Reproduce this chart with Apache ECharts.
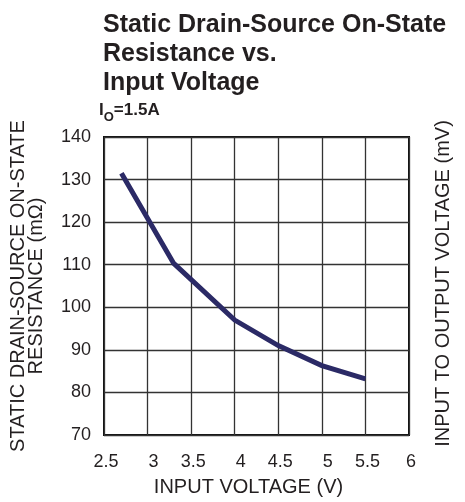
<!DOCTYPE html>
<html>
<head>
<meta charset="utf-8">
<script src="https://cdn.jsdelivr.net/npm/echarts@6/dist/echarts.min.js"></script>
<style>
  html, body { margin: 0; padding: 0; background: #fff; }
</style>
</head>
<body>
<!-- container with fixed size for the chart -->
<div id="main" style="width: 465px; height: 502px;"></div>
<script>
// input voltage (V)
var inputVoltage = [2.7, 3.3, 4.0, 4.5, 5.0, 5.5]
// on-state resistance (mOhm)
var resistance = [131.5, 110.3, 97.0, 91.0, 86.3, 83.2]

var titleLines = ['Static Drain-Source On-State', 'Resistance vs.', 'Input Voltage']
var fontFamily = '"Liberation Sans", Arial, Helvetica, sans-serif'

var points = []
for (var i = 0; i < inputVoltage.length; i++) {
  points.push([inputVoltage[i], resistance[i]])
}

var chart = echarts.init(document.getElementById('main'))
var option = {
  animation: false,
  backgroundColor: '#fff',
  title: {
    text: titleLines.join('\n'),
    left: 98,
    top: 6,
    textStyle: {
      fontFamily: fontFamily,
      fontSize: 25,
      fontWeight: 'bold',
      lineHeight: 29,
      color: '#231f20'
    }
  },
  graphic: [
    {
      type: 'text',
      left: 99,
      top: 102,
      style: {
        text: '{b|I}{s|O}{b|=1.5A}',
        rich: {
          b: { fontFamily: fontFamily, fontSize: 17, fontWeight: 'bold', fill: '#231f20', verticalAlign: 'top', lineHeight: 22 },
          s: { fontFamily: fontFamily, fontSize: 13, fontWeight: 'bold', fill: '#231f20', verticalAlign: 'top', padding: [9, 0, 0, 0], lineHeight: 22 }
        }
      }
    }
  ],
  grid: {
    left: 101,
    right: 56,
    top: 137,
    bottom: 59,
    show: true,
    borderColor: '#111',
    borderWidth: 2
  },
  xAxis: {
    type: 'value',
    min: 2.5,
    max: 6,
    interval: 0.5,
    name: 'INPUT VOLTAGE (V)',
    nameLocation: 'middle',
    nameGap: 42,
    nameTextStyle: { fontFamily: fontFamily, fontSize: 20, color: '#231f20', padding: [0, 16, 0, 0] },
    axisLine: { show: false },
    axisTick: { show: false },
    axisLabel: {
      fontFamily: fontFamily,
      fontSize: 18,
      color: '#231f20',
      margin: 17,
      // whole volts sit a little right of their grid line in the original
      formatter: function (v) {
        if (v % 1 === 0 && v < 6) return '{i|' + v + '}'
        return '{h|' + v + '}'
      },
      rich: {
        i: { fontFamily: fontFamily, fontSize: 18, lineHeight: 20, color: '#231f20', padding: [0, 0, 0, 12] },
        h: { fontFamily: fontFamily, fontSize: 18, lineHeight: 20, color: '#231f20', padding: [0, 0, 0, 4] }
      }
    },
    splitLine: { show: true, lineStyle: { color: '#333', width: 1.3 } }
  },
  yAxis: [
    {
      type: 'value',
      min: 70,
      max: 140,
      interval: 10,
      name: 'STATIC DRAIN-SOURCE ON-STATE\nRESISTANCE (mΩ)',
      nameLocation: 'middle',
      nameRotate: 90,
      nameGap: 59,
      nameTextStyle: { fontFamily: fontFamily, fontSize: 20, color: '#231f20', lineHeight: 18 },
      axisLine: { show: false },
      axisTick: { show: false },
      axisLabel: { fontFamily: fontFamily, fontSize: 18, color: '#231f20', margin: 13 },
      splitLine: { show: true, lineStyle: { color: '#333', width: 1.3 } }
    },
    {
      type: 'value',
      position: 'right',
      min: 70,
      max: 140,
      interval: 10,
      name: 'INPUT TO OUTPUT VOLTAGE (mV)',
      nameLocation: 'middle',
      nameRotate: 90,
      nameGap: 24,
      nameTextStyle: { fontFamily: fontFamily, fontSize: 20, color: '#231f20', padding: [0, 0, 0, 5] },
      axisLine: { show: false },
      axisTick: { show: false },
      axisLabel: { show: false },
      splitLine: { show: false }
    }
  ],
  series: [
    {
      name: 'RDS(on)',
      type: 'line',
      yAxisIndex: 0,
      data: points,
      showSymbol: false,
      symbol: 'none',
      lineStyle: { color: '#2b2a66', width: 5, cap: 'butt', join: 'miter' }
    }
  ]
}
chart.setOption(option)
</script>
</body>
</html>
